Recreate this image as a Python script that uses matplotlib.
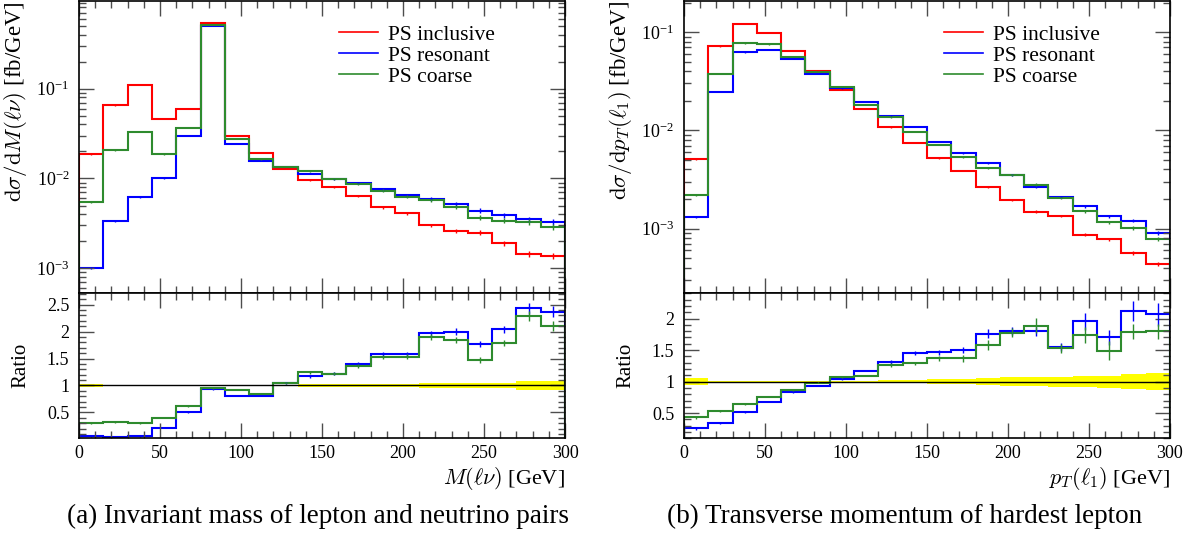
import numpy as np
import matplotlib
matplotlib.use("Agg")
import matplotlib.pyplot as plt
from matplotlib.ticker import MultipleLocator, LogLocator, NullFormatter
from matplotlib.lines import Line2D

plt.rcParams['font.family'] = 'serif'
plt.rcParams['font.serif'] = ['Liberation Serif', 'DejaVu Serif']
plt.rcParams['mathtext.fontset'] = 'cm'

edges = np.arange(0, 301, 15)
labels = ["PS inclusive", "PS resonant", "PS coarse"]
colors = ["#ff0000", "#0000ff", "#2e8b2e"]

# (a) invariant mass M(l nu)
mass_inc = [0.0185, 0.065, 0.111, 0.046, 0.060, 0.537, 0.030, 0.0193, 0.0129, 0.00966,
            0.0080, 0.0064, 0.00476, 0.0041, 0.0030, 0.0026, 0.00249, 0.0019, 0.00144, 0.00138]
mass_res = [0.0010, 0.00336, 0.0062, 0.0100, 0.030, 0.50, 0.0243, 0.0157, 0.0134, 0.0113,
            0.00975, 0.00895, 0.00755, 0.00648, 0.0059, 0.0052, 0.0044, 0.00388, 0.0035, 0.00327]
mass_crs = [0.0055, 0.0205, 0.0333, 0.0185, 0.0369, 0.51, 0.0276, 0.0164, 0.0134, 0.0120,
            0.00975, 0.0087, 0.0073, 0.0063, 0.0057, 0.0048, 0.00366, 0.0034, 0.0033, 0.0029]
mass_err = [0.02, 0.02, 0.01, 0.01, 0.01, 0.005, 0.01, 0.01, 0.01, 0.02,
            0.02, 0.03, 0.04, 0.04, 0.05, 0.05, 0.06, 0.06, 0.07, 0.08]
mass_rerr_res = [0.01, 0.01, 0.01, 0.01, 0.01, 0.01, 0.01, 0.01, 0.02, 0.03,
                 0.03, 0.04, 0.04, 0.04, 0.05, 0.06, 0.05, 0.06, 0.10, 0.10]
mass_rerr_crs = [0.01, 0.01, 0.01, 0.01, 0.01, 0.01, 0.01, 0.01, 0.02, 0.03,
                 0.03, 0.03, 0.04, 0.04, 0.05, 0.05, 0.05, 0.06, 0.09, 0.10]
mass_band = [0.035, 0.01, 0.01, 0.01, 0.01, 0.005, 0.01, 0.01, 0.015, 0.02,
             0.025, 0.03, 0.035, 0.035, 0.05, 0.05, 0.05, 0.055, 0.08, 0.08]

# (b) transverse momentum of hardest lepton
pt_inc = [0.0051, 0.072, 0.121, 0.098, 0.0645, 0.0403, 0.0258, 0.0166, 0.0108, 0.0075,
          0.00525, 0.0039, 0.00264, 0.00197, 0.00149, 0.00135, 0.00087, 0.00078, 0.00057, 0.00044]
pt_res = [0.00131, 0.0248, 0.062, 0.0665, 0.0538, 0.0376, 0.0269, 0.0195, 0.0141, 0.01086,
          0.00769, 0.00586, 0.00464, 0.00355, 0.00268, 0.00209, 0.0017, 0.00133, 0.00121, 0.00091]
pt_crs = [0.0022, 0.0379, 0.0773, 0.0748, 0.056, 0.0397, 0.0277, 0.0182, 0.0136, 0.00966,
          0.00718, 0.00533, 0.00418, 0.0035, 0.00281, 0.00206, 0.00151, 0.00116, 0.00102, 0.00079]
pt_err = [0.03, 0.01, 0.01, 0.01, 0.01, 0.01, 0.01, 0.01, 0.01, 0.015,
          0.02, 0.02, 0.025, 0.025, 0.03, 0.03, 0.035, 0.04, 0.045, 0.05]
pt_rerr_res = [0.02, 0.01, 0.01, 0.01, 0.01, 0.01, 0.01, 0.01, 0.03, 0.03,
               0.04, 0.05, 0.07, 0.06, 0.07, 0.07, 0.13, 0.12, 0.16, 0.18]
pt_rerr_crs = [0.02, 0.01, 0.01, 0.01, 0.01, 0.01, 0.01, 0.01, 0.03, 0.03,
               0.04, 0.05, 0.08, 0.07, 0.12, 0.07, 0.13, 0.15, 0.12, 0.12]
pt_band = [0.05, 0.005, 0.005, 0.005, 0.005, 0.005, 0.005, 0.01, 0.02, 0.03,
           0.04, 0.045, 0.06, 0.07, 0.075, 0.08, 0.09, 0.095, 0.12, 0.14]


def style_axis(ax, logy=False):
    ax.tick_params(which='both', direction='in', top=True, right=True, color='0.3')
    ax.tick_params(which='major', length=11, width=1, pad=7)
    ax.tick_params(which='minor', length=5, width=1)
    ax.xaxis.set_major_locator(MultipleLocator(50))
    ax.xaxis.set_minor_locator(MultipleLocator(10))
    for s in ax.spines.values():
        s.set_linewidth(1.2)
    if logy:
        ax.yaxis.set_major_locator(LogLocator(base=10, numticks=20))
        ax.yaxis.set_minor_locator(LogLocator(base=10, subs=np.arange(2, 10), numticks=20))
        ax.yaxis.set_minor_formatter(NullFormatter())


def draw_panel(ax, axr, series, errs, rerrs, band, ylim, rlim, ylabel, xlabel):
    centers = 0.5 * (edges[:-1] + edges[1:])
    ref = np.array(series[0])
    for vals, col in zip(series, colors):
        vals = np.array(vals)
        ax.stairs(vals, edges, color=col, lw=1.5)
        ax.errorbar(centers, vals, yerr=vals * np.array(errs), fmt='none',
                    ecolor=col, elinewidth=1)
    ax.set_yscale('log')
    ax.set_xlim(0, 300)
    ax.set_ylim(*ylim)
    style_axis(ax, logy=True)
    ax.tick_params(axis='x', labelbottom=False)
    ax.tick_params(axis='y', labelsize=13)
    ax.set_ylabel(ylabel, fontsize=16.5, loc='top')
    ax.yaxis.set_label_coords(-0.103, 1.0)
    handles = [Line2D([], [], color=c, lw=1.2) for c in colors]
    ax.legend(handles, labels, loc='upper left', bbox_to_anchor=(0.508, 0.965),
              frameon=False, fontsize=15.5, handlelength=1.8, handletextpad=0.5,
              labelspacing=0.05, borderaxespad=0.2)

    band = np.array(band)
    axr.stairs(1 + band, edges, baseline=1 - band, fill=True, color='#ffff00', lw=0)
    axr.axhline(1, color='black', lw=1)
    for vals, rerr, col in zip(series[1:], rerrs, colors[1:]):
        ratio = np.array(vals) / ref
        axr.stairs(ratio, edges, color=col, lw=1.5)
        axr.errorbar(centers, ratio, yerr=rerr, fmt='none', ecolor=col, elinewidth=1)
    axr.set_xlim(0, 300)
    axr.set_ylim(*rlim)
    style_axis(axr)
    axr.yaxis.set_major_locator(MultipleLocator(0.5))
    axr.yaxis.set_minor_locator(MultipleLocator(0.1))
    axr.yaxis.set_major_formatter(lambda v, p: f"{v:g}")
    axr.tick_params(labelsize=13)
    axr.tick_params(axis='x', pad=5)
    axr.set_ylabel("Ratio", fontsize=15)
    axr.yaxis.set_label_coords(-0.1, 0.5)
    axr.set_xlabel(xlabel, fontsize=16, loc='right')
    axr.xaxis.set_label_coords(1.0, -0.18)


fig = plt.figure(figsize=(11.92, 5.4), dpi=100)
ax1 = fig.add_axes([0.0663, 0.458, 0.4077, 0.5393])
ax1r = fig.add_axes([0.0663, 0.1883, 0.4077, 0.2696])
ax2 = fig.add_axes([0.5738, 0.458, 0.4077, 0.5393])
ax2r = fig.add_axes([0.5738, 0.1883, 0.4077, 0.2696])

draw_panel(ax1, ax1r, [mass_inc, mass_res, mass_crs], mass_err,
           [mass_rerr_res, mass_rerr_crs], mass_band, (5.36e-4, 0.933), (0.02, 2.72),
           r'$\mathrm{d}\sigma/\mathrm{d}M(\ell\nu)$ [fb/GeV]', r'$M(\ell\nu)$ [GeV]')
draw_panel(ax2, ax2r, [pt_inc, pt_res, pt_crs], pt_err,
           [pt_rerr_res, pt_rerr_crs], pt_band, (2.23e-4, 0.205), (0.1, 2.41),
           r'$\mathrm{d}\sigma/\mathrm{d}p_T(\ell_1)$ [fb/GeV]', r'$p_T(\ell_1)$ [GeV]')

fig.text(318 / 1192, 24 / 540, "(a) Invariant mass of lepton and neutrino pairs",
         ha='center', va='center', fontsize=19.5)
fig.text(905 / 1192, 24 / 540, "(b) Transverse momentum of hardest lepton",
         ha='center', va='center', fontsize=19.5)

fig.savefig("out.png", dpi=100)
